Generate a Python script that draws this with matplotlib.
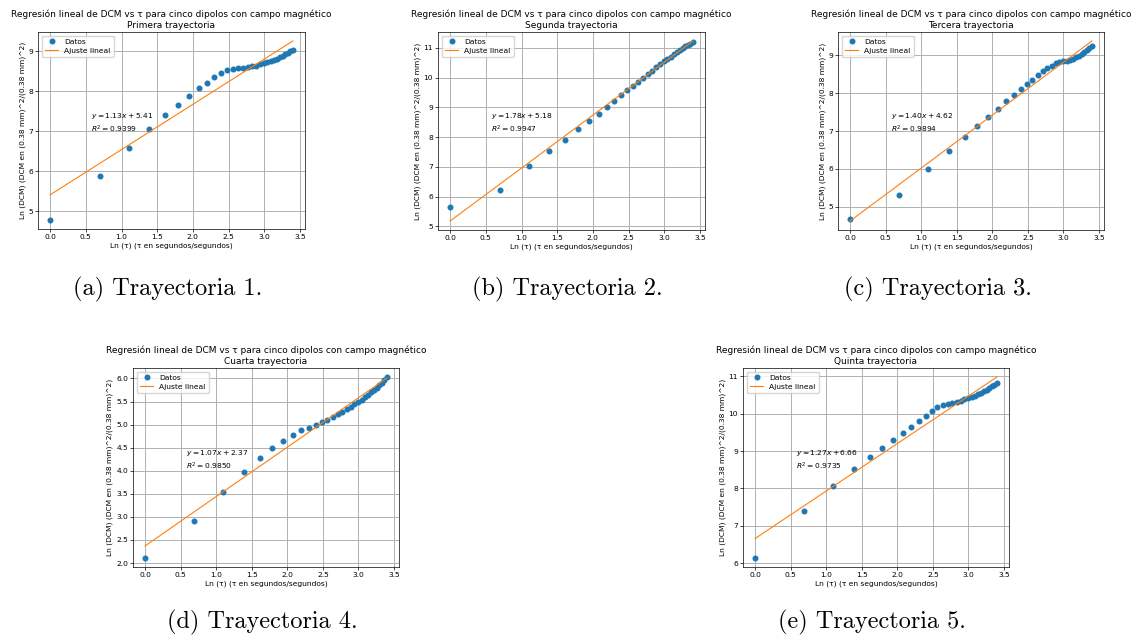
"""
Regresion lineal de ln(DCM) vs ln(tau) para las cinco trayectorias
(cinco dipolos con campo magnetico), en una sola figura con subtitulos.
"""

import numpy as np
import matplotlib.pyplot as plt

# ======================================================================
# Datos
# ======================================================================
tau = [1, 2, 3, 4, 5, 6, 7, 8, 9, 10, 11, 12, 13, 14, 15,
       16, 17, 18, 19, 20, 21, 22, 23, 24, 25, 26, 27, 28, 29, 30]

ln_dcm_1 = [4.78, 5.87, 6.59, 7.05, 7.40, 7.66, 7.88, 8.07, 8.21, 8.35,
            8.45, 8.52, 8.56, 8.57, 8.59, 8.60, 8.62, 8.64, 8.67, 8.70,
            8.72, 8.75, 8.78, 8.81, 8.85, 8.89, 8.93, 8.96, 9.00, 9.03]
ln_dcm_2 = [5.65, 6.22, 7.02, 7.52, 7.92, 8.26, 8.55, 8.79, 9.01, 9.23,
            9.41, 9.57, 9.71, 9.86, 10.00, 10.12, 10.23, 10.35, 10.45, 10.55,
            10.63, 10.71, 10.79, 10.86, 10.93, 10.99, 11.05, 11.10, 11.15, 11.20]
ln_dcm_3 = [4.68, 5.30, 6.00, 6.48, 6.85, 7.13, 7.37, 7.59, 7.79, 7.94,
            8.10, 8.24, 8.35, 8.47, 8.58, 8.66, 8.71, 8.79, 8.82, 8.84,
            8.86, 8.88, 8.91, 8.95, 8.99, 9.04, 9.09, 9.14, 9.19, 9.24]
ln_dcm_4 = [2.11, 2.91, 3.53, 3.97, 4.27, 4.49, 4.64, 4.78, 4.88, 4.92,
            4.99, 5.05, 5.10, 5.16, 5.22, 5.28, 5.33, 5.39, 5.44, 5.49,
            5.54, 5.59, 5.64, 5.70, 5.75, 5.80, 5.86, 5.91, 5.97, 6.03]
ln_dcm_5 = [6.14, 7.39, 8.06, 8.51, 8.83, 9.08, 9.30, 9.47, 9.65, 9.80,
            9.95, 10.07, 10.17, 10.23, 10.27, 10.29, 10.32, 10.35, 10.38, 10.41,
            10.45, 10.48, 10.52, 10.56, 10.60, 10.64, 10.69, 10.73, 10.78, 10.83]

# pendiente, ordenada y R^2 de cada ajuste
slopes = [1.13, 1.78, 1.40, 1.07, 1.27]
intercepts = [5.41, 5.18, 4.62, 2.37, 6.66]
r2_values = [0.9399, 0.9947, 0.9894, 0.9850, 0.9735]

ordinales = ["Primera", "Segunda", "Tercera", "Cuarta", "Quinta"]
captions = ["(a) Trayectoria 1.", "(b) Trayectoria 2.", "(c) Trayectoria 3.",
            "(d) Trayectoria 4.", "(e) Trayectoria 5."]

series = [ln_dcm_1, ln_dcm_2, ln_dcm_3, ln_dcm_4, ln_dcm_5]
x = np.log(np.array(tau))

# ======================================================================
# Figura
# ======================================================================
W, H = 1134, 641
fig = plt.figure(figsize=(W / 100, H / 100), dpi=100)

# cajas de los ejes en pixeles: (izquierda, arriba, derecha, abajo)
boxes = [(38, 32, 305, 229), (438, 32, 705, 230), (838, 32, 1104, 230),
         (133, 368, 399, 567), (743, 368, 1009, 567)]
caption_pos = [(168, 289), (567, 289), (938, 289), (262, 622), (872, 622)]

fs = 5.4
for i in range(5):
    l, t, r, b = boxes[i]
    ax = fig.add_axes([l / W, 1 - b / H, (r - l) / W, (b - t) / H])
    ax.plot(x, series[i], 'o', color='#1f77b4', markersize=3.3, label="Datos")
    ax.plot(x, slopes[i] * x + intercepts[i], '-', color='#ff7f0e',
            linewidth=0.8, label="Ajuste lineal")
    ax.set_title("Regresión lineal de DCM vs τ para cinco dipolos con campo magnético\n"
                 f"{ordinales[i]} trayectoria", fontsize=6.5, pad=3)
    ax.set_xlabel("Ln (τ) (τ en segundos/segundos)", fontsize=fs, labelpad=2)
    ax.set_ylabel("Ln (DCM) (DCM en (0.38 mm)^2/(0.38 mm)^2)", fontsize=fs, labelpad=2)
    ax.tick_params(labelsize=fs, length=2, width=0.5, pad=1.5)
    for sp in ax.spines.values():
        sp.set_linewidth(0.5)
    ax.grid(True, linewidth=0.7)
    ax.legend(loc='upper left', fontsize=fs, handlelength=1.8,
              borderpad=0.4, labelspacing=0.3)
    ax.text(0.2, 0.6,
            f"$y = {slopes[i]:.2f}x + {intercepts[i]:.2f}$\n$R^2 = {r2_values[i]:.4f}$",
            transform=ax.transAxes, fontsize=fs, va='top', linespacing=1.3)

    cx, cy = caption_pos[i]
    fig.text(cx / W, 1 - cy / H, captions[i], family='cmr10', fontsize=17.5,
             ha='center', va='center')

fig.savefig("out.png", dpi=100)
